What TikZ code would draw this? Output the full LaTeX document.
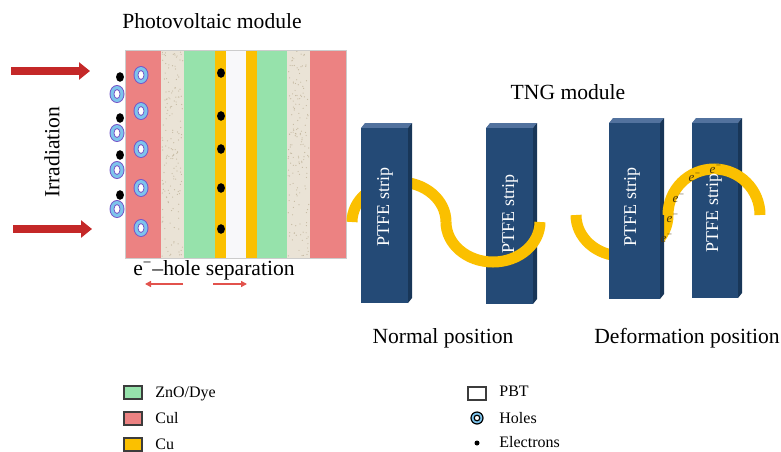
\documentclass[tikz,border=0pt]{standalone}
\usepackage{fontspec}
\setmainfont{Liberation Serif}
\usetikzlibrary{arrows.meta}

\definecolor{cuipink}{RGB}{236,130,130}
\definecolor{sandbeige}{RGB}{234,227,214}
\definecolor{sanddot}{RGB}{196,184,160}
\definecolor{znogreen}{RGB}{150,226,171}
\definecolor{cuyellow}{RGB}{251,192,0}
\definecolor{pbtwhite}{RGB}{248,248,250}
\definecolor{holeblue}{RGB}{125,196,236}
\definecolor{holeedge}{RGB}{118,88,200}
\definecolor{irrred}{RGB}{196,40,40}
\definecolor{sepred}{RGB}{226,82,76}
\definecolor{stripfront}{RGB}{36,74,118}
\definecolor{striptop}{RGB}{82,114,158}
\definecolor{stripside}{RGB}{24,54,88}

\tikzstyle{main_label} =
  [ inner sep=0pt
  , font=\fontsize{10.8}{13}\selectfont
  ]
\tikzstyle{strip_label} =
  [ inner sep=0pt
  , rotate=90
  , text=white
  , font=\fontsize{9}{11}\selectfont
  ]
\tikzstyle{legend_label} =
  [ inner sep=0pt
  , anchor=base west
  , font=\fontsize{8}{10}\selectfont
  ]
\tikzstyle{legend_box} =
  [ draw={rgb,255:red,60;green,60;blue,60}
  , line width=0.6pt
  ]
\tikzstyle{wave_band} =
  [ cuyellow
  , line width=5.5pt
  ]
\tikzstyle{irr_arrow} =
  [ irrred
  , line width=3.8pt
  , -{Triangle[length=5.5pt,width=8.5pt]}
  ]
\tikzstyle{sep_arrow} =
  [ sepred
  , line width=0.7pt
  , -{Triangle[length=3pt,width=3pt]}
  ]
\tikzstyle{electron_tag} =
  [ inner sep=0pt
  , text={rgb,255:red,70;green,52;blue,10}
  , font=\fontsize{6.5}{7}\selectfont\itshape
  ]

% hole: blue ring with a purple rim
\def\HoleMark#1#2{%
  \fill[holeedge] (#1,#2) ellipse (7.5 and 9);
  \fill[holeblue] (#1,#2) ellipse (6.5 and 8);
  \filldraw[draw=holeedge,fill=white,line width=0.4pt] (#1,#2) ellipse (3 and 4.5);}
\def\ElectronMark#1#2{\fill[black] (#1,#2) ellipse (4 and 4.8);}
% PTFE block: front face, lit top, dark side
\def\PtfeStrip#1#2#3#4{%
  \fill[striptop]   (#1,#2) -- ++(4,-5) -- (#3+4,#2-5) -- (#3,#2) -- cycle;
  \fill[stripside]  (#3,#2) -- ++(4,-5) -- (#3+4,#4-5) -- (#3,#4) -- cycle;
  \fill[stripfront] (#1,#2) rectangle (#3,#4);}

\begin{document}
\begin{tikzpicture}[x=0.5pt,y=-0.5pt]
  \useasboundingbox (0,0) rectangle (781,451);

  % photovoltaic stack
  \fill[cuipink]   (125,50) rectangle (161,258);
  \fill[sandbeige] (161,50) rectangle (184,258);
  \fill[znogreen]  (184,50) rectangle (215,258);
  \fill[cuyellow]  (215,50) rectangle (226,258);
  \fill[pbtwhite]  (226,50) rectangle (246,258);
  \fill[cuyellow]  (246,50) rectangle (257,258);
  \fill[znogreen]  (257,50) rectangle (287,258);
  \fill[sandbeige] (287,50) rectangle (310,258);
  \fill[cuipink]   (310,50) rectangle (346,258);
  \pgfmathsetseed{11}
  \foreach \xa in {161,287}
    \foreach \i in {1,...,160}
      \fill[sanddot] ({\xa+1+21*rnd},{51+206*rnd}) circle (0.6);
  \draw[black!20,line width=0.4pt] (125,50) rectangle (346,258);

  \foreach \y in {75,111,149,188,228} {\HoleMark{141}{\y}}
  \foreach \y in {94,133,170,209} {\HoleMark{117}{\y}}
  \foreach \y in {77,118,155,195} {\ElectronMark{120}{\y}}
  \foreach \y in {73,116,149,188,229} {\ElectronMark{221}{\y}}

  \node[main_label,anchor=base] (pv_title) at (212,28) {Photovoltaic module};
  \node[main_label,rotate=90] (irr_label) at (52,152) {Irradiation};
  \coordinate (irr_top_a) at (11,71);
  \coordinate (irr_top_b) at (90,71);
  \coordinate (irr_bot_a) at (13,229);
  \coordinate (irr_bot_b) at (92,229);
  \draw[irr_arrow] (irr_top_a) -- (irr_top_b);
  \draw[irr_arrow] (irr_bot_a) -- (irr_bot_b);

  \node[main_label,anchor=base] (sep_label) at (214,275) {e\textsuperscript{−}–hole separation};
  \coordinate (sep_l_a) at (183,284);
  \coordinate (sep_l_b) at (145,284);
  \coordinate (sep_r_a) at (213,284);
  \coordinate (sep_r_b) at (247,284);
  \draw[sep_arrow] (sep_l_a) -- (sep_l_b);
  \draw[sep_arrow] (sep_r_a) -- (sep_r_b);

  % TNG, normal position
  \node[main_label,anchor=base] (tng_title) at (568,99) {TNG module};
  \draw[wave_band] (352,222) arc[start angle=180,end angle=360,x radius=47,y radius=40];
  \PtfeStrip{361}{128}{408}{303}
  \PtfeStrip{486}{128}{533}{304}
  \draw[wave_band] (446,222) arc[start angle=180,end angle=0,x radius=47,y radius=40];

  % TNG, deformation position
  \draw[wave_band] (576,215) arc[start angle=180,end angle=0,x radius=46,y radius=41];
  \PtfeStrip{609}{123}{660}{299}
  \PtfeStrip{692}{123}{738}{298}
  \draw[wave_band] (668,215) arc[start angle=180,end angle=360,x radius=46,y radius=46];

  \node[strip_label] (strip_a) at (385,207) {PTFE strip};
  \node[strip_label] (strip_b) at (510,214) {PTFE strip};
  \node[strip_label] (strip_c) at (632,207) {PTFE strip};
  \node[strip_label] (strip_d) at (714,213) {PTFE strip};

  \node[electron_tag] (e_one)   at (667,238) {e\textsuperscript{−}};
  \node[electron_tag] (e_two)   at (673,218) {e\textsuperscript{−}};
  \node[electron_tag] (e_three) at (679,198) {e\textsuperscript{−}};
  \node[electron_tag] (e_four)  at (695,177) {e\textsuperscript{−}};
  \node[electron_tag] (e_five)  at (716,169) {e\textsuperscript{−}};

  \node[main_label,anchor=base] (normal_label) at (443,343) {Normal position};
  \node[main_label,anchor=base] (deform_label) at (687,343) {Deformation position};

  % legend
  \filldraw[legend_box,fill=znogreen] (124,386) rectangle (142,399);
  \filldraw[legend_box,fill=cuipink]  (124,412) rectangle (142,425);
  \filldraw[legend_box,fill=cuyellow] (124,438) rectangle (142,451);
  \node[legend_label] (leg_zno) at (155,397) {ZnO/Dye};
  \node[legend_label] (leg_cui) at (155,423) {Cul};
  \node[legend_label] (leg_cu)  at (155,449) {Cu};

  \filldraw[legend_box,fill=white] (468,387) rectangle (486,400);
  \filldraw[draw=black,line width=0.6pt,fill=holeblue] (477,418) circle (6);
  \filldraw[draw=black,line width=0.6pt,fill=white] (477,418) circle (2.8);
  \fill[black] (477,443) circle (2.5);
  \node[legend_label] (leg_pbt)  at (499,396) {PBT};
  \node[legend_label] (leg_hole) at (499,423) {Holes};
  \node[legend_label] (leg_elec) at (499,447) {Electrons};
\end{tikzpicture}
\end{document}
